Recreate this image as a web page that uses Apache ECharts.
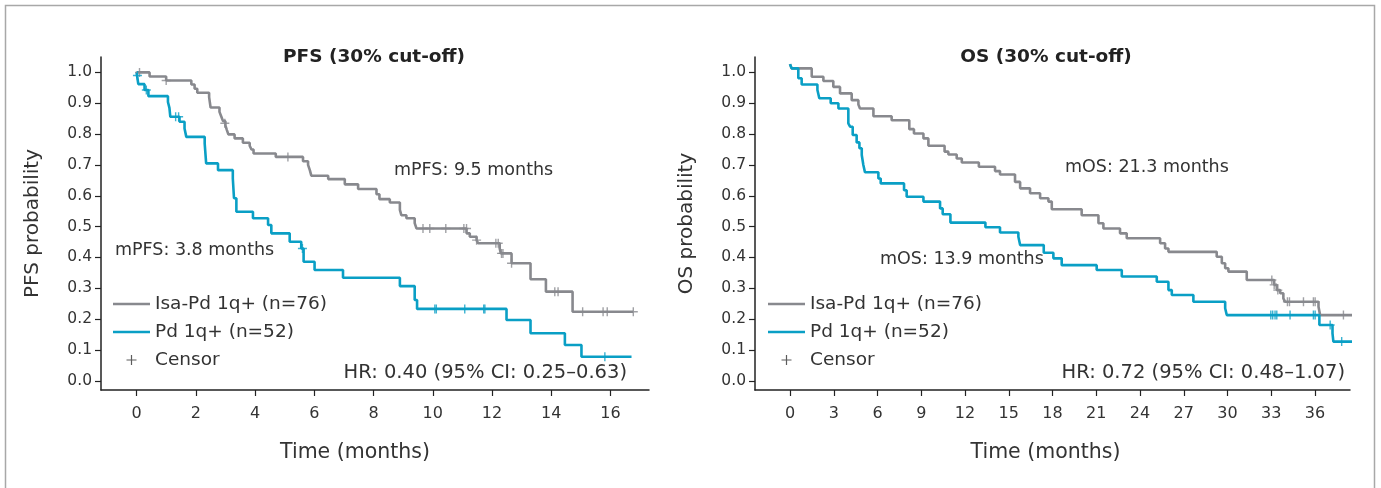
<!DOCTYPE html>
<html><head><meta charset="utf-8">
<script src="https://cdn.jsdelivr.net/npm/echarts@6/dist/echarts.min.js"></script>
<style>html,body{margin:0;padding:0;background:#fff}#c{width:1381px;height:488px}</style>
</head><body><div id="c"></div>
<script>
// ---------- DATA ----------
const seriesNames = ['Isa-Pd 1q+ (n=76)', 'Pd 1q+ (n=52)', 'Censor'];
const pfsXTicks = [0, 2, 4, 6, 8, 10, 12, 14, 16];
const osXTicks = [0, 3, 6, 9, 12, 15, 18, 21, 24, 27, 30, 33, 36];
const yTicks = [0, 0.1, 0.2, 0.3, 0.4, 0.5, 0.6, 0.7, 0.8, 0.9, 1.0];

// PFS, Isa-Pd (time in months, survival probability)
const pfsIsa = [[0,1.0],[0.44,0.987],[1.0,0.974],[1.85,0.961],[1.96,0.947],[2.05,0.934],[2.45,0.92],[2.5,0.886],[2.8,0.872],[2.86,0.857],[2.92,0.842],[3.0,0.828],[3.05,0.813],[3.1,0.799],[3.31,0.786],[3.59,0.772],[3.82,0.762],[3.88,0.75],[3.95,0.737],[4.7,0.726],[5.62,0.712],[5.79,0.7],[5.85,0.683],[5.9,0.665],[6.47,0.654],[7.03,0.637],[7.48,0.622],[8.1,0.605],[8.2,0.589],[8.55,0.578],[8.89,0.554],[8.94,0.537],[9.11,0.527],[9.39,0.511],[9.45,0.494],[11.14,0.478],[11.25,0.467],[11.48,0.456],[11.53,0.446],[12.26,0.429],[12.3,0.413],[12.66,0.381],[13.3,0.329],[13.82,0.289],[14.72,0.224],[16.77,0.224]];
const pfsIsaCensor = [[0.1,1.0],[1.0,0.974],[2.98,0.835],[5.11,0.726],[9.67,0.494],[9.9,0.494],[10.44,0.494],[11.05,0.494],[11.14,0.494],[11.48,0.456],[12.13,0.446],[12.21,0.446],[12.32,0.413],[12.37,0.413],[12.66,0.381],[14.12,0.289],[14.23,0.289],[15.06,0.224],[15.75,0.224],[15.89,0.224],[16.77,0.224]];
// PFS, Pd
const pfsPd = [[0,1.0],[0.03,0.981],[0.06,0.962],[0.27,0.943],[0.4,0.923],[1.06,0.904],[1.11,0.885],[1.14,0.856],[1.45,0.84],[1.62,0.818],[1.68,0.791],[2.3,0.77],[2.35,0.705],[2.75,0.683],[3.25,0.656],[3.29,0.592],[3.37,0.548],[3.93,0.527],[4.44,0.505],[4.55,0.478],[5.17,0.451],[5.56,0.429],[5.64,0.386],[6.01,0.359],[6.97,0.334],[8.89,0.307],[9.39,0.262],[9.47,0.233],[12.49,0.197],[13.3,0.154],[14.46,0.116],[15.02,0.078],[16.71,0.078]];
const pfsPdCensor = [[0.03,0.99],[0.33,0.943],[1.32,0.856],[1.42,0.856],[5.6,0.429],[10.07,0.233],[10.12,0.233],[11.08,0.233],[11.72,0.233],[11.76,0.233],[15.81,0.078]];
// OS, Isa-Pd
const osIsa = [[0,1.027],[0.11,1.013],[1.49,0.986],[2.29,0.972],[2.97,0.953],[3.43,0.932],[4.23,0.91],[4.69,0.896],[4.8,0.883],[5.72,0.858],[6.97,0.845],[8.18,0.816],[8.5,0.802],[9.15,0.786],[9.49,0.762],[10.6,0.743],[10.86,0.734],[11.43,0.721],[11.78,0.708],[12.95,0.694],[14.06,0.68],[14.4,0.669],[15.43,0.645],[15.78,0.624],[16.46,0.608],[17.15,0.592],[17.72,0.581],[17.95,0.556],[20.0,0.537],[21.15,0.511],[21.49,0.494],[22.63,0.478],[23.09,0.462],[25.38,0.446],[25.72,0.429],[25.95,0.418],[29.26,0.402],[29.61,0.381],[29.84,0.365],[30.06,0.354],[31.32,0.327],[33.2,0.311],[33.38,0.294],[33.61,0.284],[33.83,0.267],[33.95,0.256],[36.24,0.24],[36.35,0.213],[38.64,0.213]];
const osIsaCensor = [[33.04,0.327],[33.2,0.311],[33.45,0.294],[34.11,0.256],[34.25,0.256],[35.21,0.256],[35.89,0.256],[36.01,0.256],[37.95,0.213]];
// OS, Pd
const osPd = [[0,1.027],[0.11,1.013],[0.57,0.981],[0.8,0.961],[1.88,0.943],[2.01,0.916],[2.79,0.9],[3.32,0.883],[4.0,0.835],[4.12,0.824],[4.3,0.797],[4.57,0.773],[4.76,0.754],[4.92,0.732],[5.03,0.7],[5.14,0.676],[6.06,0.656],[6.22,0.64],[7.82,0.618],[8.0,0.597],[9.15,0.581],[10.29,0.559],[10.47,0.54],[11.0,0.513],[13.4,0.498],[14.4,0.481],[15.66,0.467],[15.78,0.44],[17.4,0.415],[18.06,0.397],[18.63,0.375],[21.03,0.359],[22.75,0.338],[25.15,0.321],[25.95,0.294],[26.18,0.278],[27.66,0.256],[29.84,0.235],[29.95,0.213],[36.3,0.181],[37.2,0.154],[37.26,0.127],[38.64,0.127]];
const osPdCensor = [[32.97,0.213],[33.1,0.213],[33.26,0.213],[33.38,0.213],[34.29,0.213],[35.89,0.213],[36.01,0.213],[37.04,0.181],[37.83,0.127]];

const titles = ['PFS (30% cut-off)', 'OS (30% cut-off)'];
const yNames = ['PFS probability', 'OS probability'];
const xName = 'Time (months)';
const notesPFS = ['mPFS: 9.5 months', 'mPFS: 3.8 months', 'HR: 0.40 (95% CI: 0.25\u20130.63)'];
const notesOS = ['mOS: 21.3 months', 'mOS: 13.9 months', 'HR: 0.72 (95% CI: 0.48\u20131.07)'];

// ---------- STYLE ----------
const GRAY = '#88898e', TEAL = '#0a9fc5', TXT = '#333333', AX = '#222222';
const FONT = 'DejaVu Sans';
const PLUS = 'path://M5,0L5,10M0,5L10,5';
const BAR = 'path://M0,0L40,0L40,2.8L0,2.8Z';

function xAx(grid, min, max, ticks, shift) {
  return {
    gridIndex: grid, type: 'value', min: min, max: max,
    axisLine: { show: true, onZero: false, lineStyle: { color: AX, width: 1.5 } },
    axisTick: { show: true, length: 6, customValues: ticks, lineStyle: { color: AX, width: 1.2 } },
    axisLabel: { customValues: ticks, fontSize: 16, color: TXT, fontFamily: FONT, margin: 16 },
    splitLine: { show: false },
    name: xName, nameLocation: 'middle', nameGap: 52,
    nameTextStyle: { fontSize: 20.5, color: TXT, fontFamily: FONT, padding: [0, shift, 0, 0] }
  };
}
function yAx(grid, name) {
  return {
    gridIndex: grid, type: 'value', min: -0.03, max: 1.05,
    axisLine: { show: true, onZero: false, lineStyle: { color: AX, width: 1.5 } },
    axisTick: { show: true, length: 6, customValues: yTicks, lineStyle: { color: AX, width: 1.2 } },
    axisLabel: { customValues: yTicks, fontSize: 15.5, color: TXT, fontFamily: FONT, margin: 9,
      formatter: v => v.toFixed(1) },
    splitLine: { show: false },
    name: name, nameLocation: 'middle', nameGap: 58, nameRotate: 90,
    nameTextStyle: { fontSize: 20, color: TXT, fontFamily: FONT }
  };
}
function km(name, data, color, g) {
  return { name: name, type: 'line', step: 'end', data: data, xAxisIndex: g, yAxisIndex: g,
    symbol: 'none', showSymbol: false, lineStyle: { color: color, width: 2.6 }, itemStyle: { color: color },
    emphasis: { disabled: true }, silent: true, z: 2 };
}
function cens(data, color, g) {
  return { name: seriesNames[2], type: 'scatter', data: data, xAxisIndex: g, yAxisIndex: g,
    symbol: PLUS, symbolSize: 9,
    itemStyle: { color: color, borderColor: color, borderWidth: 1.4 },
    emphasis: { disabled: true }, silent: true, z: 3 };
}
function legend(left) {
  return {
    left: left, top: 289, orient: 'vertical', itemWidth: 37, itemHeight: 10, itemGap: 8,
    selectedMode: false,
    textStyle: { fontSize: 18.5, color: TXT, fontFamily: FONT, lineHeight: 20 },
    data: [
      { name: seriesNames[0], icon: BAR, itemStyle: { color: GRAY, borderWidth: 0 } },
      { name: seriesNames[1], icon: BAR, itemStyle: { color: TEAL, borderWidth: 0 } },
      { name: seriesNames[2], icon: PLUS, itemStyle: { color: TXT, borderColor: TXT, borderWidth: 1.2 } }
    ]
  };
}
function note(text, x, y, align, size) {
  return { type: 'text', x: x, y: y, silent: true,
    style: { text: text, fill: TXT, font: (size || 17.5) + 'px "' + FONT + '"', align: align || 'left', verticalAlign: 'middle' } };
}

const chart = echarts.init(document.getElementById('c'), null, { renderer: 'canvas' });
chart.setOption({
  animation: false,
  backgroundColor: '#ffffff',
  title: [
    { text: titles[0], left: 369, top: 43, textAlign: 'center',
      textStyle: { fontSize: 18.5, fontWeight: 'bold', color: '#222', fontFamily: FONT } },
    { text: titles[1], left: 1041, top: 43, textAlign: 'center',
      textStyle: { fontSize: 18.5, fontWeight: 'bold', color: '#222', fontFamily: FONT } }
  ],
  grid: [
    { left: 101, top: 57, width: 548, height: 333 },
    { left: 755, top: 57, width: 595, height: 333 }
  ],
  xAxis: [xAx(0, -1.2, 17.3, pfsXTicks, 40), xAx(1, -2.4, 38.4, osXTicks, 14)],
  yAxis: [yAx(0, yNames[0]), yAx(1, yNames[1])],
  legend: [legend(108), legend(763)],
  series: [
    km(seriesNames[0], pfsIsa, GRAY, 0), km(seriesNames[1], pfsPd, TEAL, 0),
    cens(pfsIsaCensor, GRAY, 0), cens(pfsPdCensor, TEAL, 0),
    km(seriesNames[0], osIsa, GRAY, 1), km(seriesNames[1], osPd, TEAL, 1),
    cens(osIsaCensor, GRAY, 1), cens(osPdCensor, TEAL, 1)
  ],
  graphic: [
    { type: 'rect', silent: true, shape: { x: 5.5, y: 5.5, width: 1369, height: 520 },
      style: { fill: 'none', stroke: '#a8a8a8', lineWidth: 1.5 } },
    note(notesPFS[0], 394, 170), note(notesPFS[1], 115, 250), note(notesPFS[2], 627, 373, 'right', 19.5),
    note(notesOS[0], 1065, 167), note(notesOS[1], 880, 259), note(notesOS[2], 1345, 373, 'right', 19.5)
  ]
});
</script></body></html>
